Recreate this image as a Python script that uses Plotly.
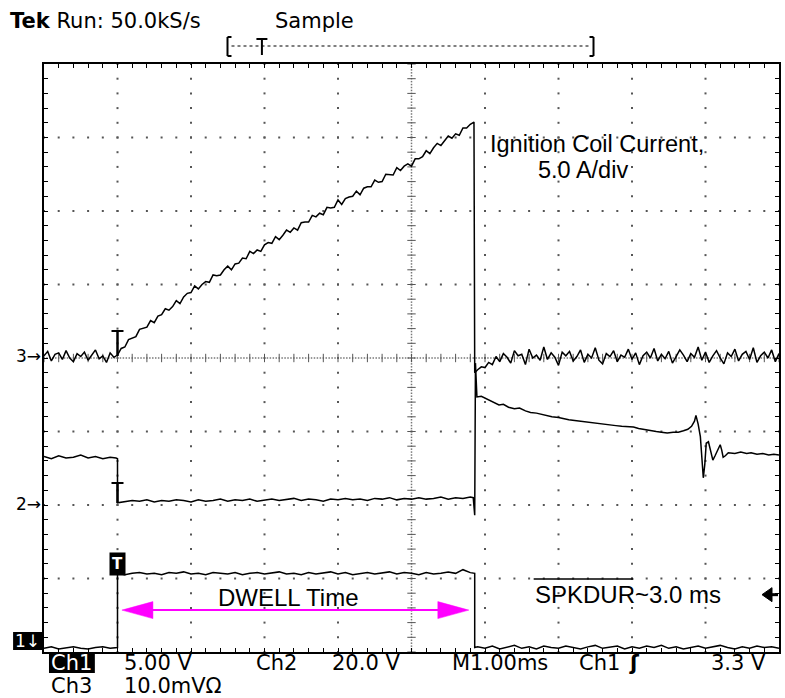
import numpy as np
import plotly.graph_objects as go

W, H = 785, 698
L, R, T, B = 44, 781, 64, 652   # plot area in pixels

# ---------------- data (in screen divisions; time axis 1.00 ms/div) ----------------
# Ch3 : ignition coil current (5.0 A/div)
ch3_t = np.concatenate([np.arange(0, 118) / 20, [5.86], np.arange(118, 201) / 20])
ch3_v = [
    0.03, 0.09, -0.04, 0.05, 0.07, -0.02, 0.10, 0.00, -0.05, 0.06,
    0.02, 0.08, -0.03, 0.04, 0.11, -0.01, 0.03, -0.06, 0.07, 0.01,
    0.04,
    0.13, 0.15, 0.25, 0.27, 0.29, 0.39, 0.40, 0.42, 0.51, 0.48,
    0.57, 0.59, 0.67, 0.65, 0.70, 0.78, 0.74, 0.83, 0.88, 0.89,
    0.98, 0.94, 1.00, 1.04, 1.03, 1.13, 1.12, 1.13, 1.20, 1.25,
    1.20, 1.28, 1.29, 1.36, 1.35, 1.45, 1.42, 1.47, 1.45, 1.54,
    1.57, 1.56, 1.65, 1.61, 1.67, 1.74, 1.71, 1.77, 1.74, 1.84,
    1.85, 1.85, 1.94, 1.92, 1.97, 1.95, 2.05, 2.04, 2.05, 2.15,
    2.09, 2.17, 2.19, 2.20, 2.27, 2.22, 2.31, 2.33, 2.33, 2.42,
    2.39, 2.40, 2.50, 2.50, 2.49, 2.59, 2.55, 2.61, 2.64, 2.61,
    2.71, 2.71, 2.74, 2.82, 2.78, 2.86, 2.92, 2.89, 2.95, 3.02,
    2.99, 3.05, 3.03, 3.13, 3.13, 3.18, 3.21,
    -0.20,
    -0.16, -0.12, -0.13, -0.06, -0.09, 0.02, -0.05, 0.06, 0.01, -0.07,
    0.10, 0.03, 0.05, -0.09, 0.12, 0.00, 0.04, -0.03, 0.15, -0.02,
    0.07, 0.01, -0.10, 0.08, 0.03, 0.09, -0.04, 0.02, 0.11, -0.06,
    0.05, 0.00, 0.14, -0.03, -0.08, 0.06, 0.02, 0.10, -0.05, 0.04,
    0.01, 0.12, -0.02, 0.07, -0.09, 0.03, 0.08, 0.00, 0.13, -0.04,
    0.05, -0.01, 0.09, -0.07, 0.02, 0.11, 0.04, -0.05, 0.06, 0.01,
    0.15, -0.03, 0.08, -0.06, 0.03, 0.10, 0.00, -0.08, 0.07, 0.02,
    0.12, -0.04, 0.05, 0.09, -0.02, 0.14, -0.06, 0.03, 0.08, 0.00,
    0.11, -0.05, 0.06,
]

# Ch2 : coil primary voltage (20.0 V/div)
ch2_t = np.concatenate([
    np.arange(0, 10) / 10, [0.98, 1.00, 1.00], np.arange(11, 59) / 10, [5.84],
    [5.86, 5.87, 5.89, 5.95, 6.01, 6.08, 6.13, 6.19, 6.25, 6.32, 6.40, 6.47,
     6.55, 6.62, 6.70, 6.78, 6.85, 6.91, 7.00, 7.07, 7.14, 7.22, 7.30, 7.38,
     7.46, 7.54, 7.62, 7.70, 7.78, 7.86, 7.94, 8.02, 8.09, 8.17, 8.25, 8.33,
     8.40, 8.48, 8.56, 8.63, 8.70, 8.76, 8.81, 8.85, 8.87, 8.90, 8.93, 8.95,
     8.97, 8.99, 9.01, 9.04, 9.06, 9.08, 9.10, 9.13, 9.15, 9.18, 9.20, 9.22,
     9.24, 9.27, 9.31, 9.40, 9.48, 9.56, 9.62, 9.70, 9.78, 9.86, 9.93, 10.0],
])
ch2_v = [
    -1.34, -1.37, -1.33, -1.36, -1.35, -1.32, -1.36, -1.34, -1.37, -1.35,
    -1.36, -1.37, -1.97,
    -1.96, -1.94, -1.95, -1.93, -1.96, -1.94, -1.95, -1.93, -1.94, -1.96,
    -1.93, -1.95, -1.94, -1.92, -1.95, -1.93, -1.94, -1.92, -1.95, -1.93,
    -1.92, -1.94, -1.93, -1.91, -1.94, -1.92, -1.93, -1.95, -1.92, -1.93,
    -1.91, -1.93, -1.92, -1.94, -1.91, -1.92, -1.90, -1.93, -1.91, -1.92,
    -1.90, -1.92, -1.91, -1.89, -1.92, -1.90, -1.91, -1.89,
    -1.90,
    -2.14, -0.07, -0.53, -0.52, -0.55, -0.58, -0.60, -0.64, -0.63, -0.67, -0.69, -0.68,
    -0.72, -0.74, -0.75, -0.77, -0.79, -0.80, -0.81, -0.83, -0.84, -0.85, -0.86, -0.87,
    -0.88, -0.88, -0.90, -0.91, -0.92, -0.93, -0.94, -0.94, -0.96, -0.97, -0.99, -1.00,
    -1.01, -1.02, -1.01, -1.01, -0.99, -0.97, -0.93, -0.86, -0.78, -0.90, -1.07, -1.40,
    -1.63, -1.45, -1.16, -1.14, -1.22, -1.30, -1.39, -1.33, -1.28, -1.22, -1.18, -1.25,
    -1.35, -1.33, -1.29, -1.30, -1.28, -1.30, -1.29, -1.31, -1.30, -1.32, -1.31, -1.32,
]

# Ch1 : dwell / SPKDUR logic signal (5.00 V/div)
ch1_t = np.concatenate([np.arange(0, 11) / 10, [1.0], np.arange(11, 59) / 10, [5.86, 5.86],
                        np.arange(59, 101) / 10])
ch1_v = [
    -3.95, -3.93, -3.96, -3.94, -3.93, -3.95, -3.96, -3.94, -3.93, -3.95, -3.94,
    -2.93,
    -2.95, -2.93, -2.92, -2.94, -2.93, -2.95, -2.92, -2.93, -2.91, -2.94,
    -2.93, -2.95, -2.92, -2.93, -2.94, -2.92, -2.95, -2.93, -2.92, -2.94,
    -2.93, -2.91, -2.94, -2.93, -2.95, -2.92, -2.94, -2.93, -2.91, -2.94,
    -2.92, -2.95, -2.93, -2.92, -2.94, -2.93, -2.91, -2.94, -2.92, -2.93,
    -2.95, -2.92, -2.94, -2.93, -2.91, -2.93, -2.88, -2.92,
    -2.93, -3.94,
    -3.93, -3.95, -3.92, -3.96, -3.94, -3.91, -3.95, -3.93, -3.96, -3.92,
    -3.94, -3.95, -3.92, -3.94, -3.96, -3.93, -3.91, -3.95, -3.94, -3.92,
    -3.96, -3.93, -3.95, -3.92, -3.94, -3.91, -3.95, -3.93, -3.96, -3.94,
    -3.92, -3.95, -3.93, -3.91, -3.94, -3.96, -3.93, -3.95, -3.92, -3.94,
    -3.93, -3.95,
]

trigger_t = 1.00          # trigger / dwell start (ms)
dwell_end_t = 5.86        # spark / dwell end (ms)
ch3_level, ch2_level = 0.0, -2.0
trig_level = -3.22
dwell_arrow_y = -3.43

header_left = "<b>Tek</b> Run: 50.0kS/s"
header_mode = "Sample"
bottom_row1 = [("5.00 V", 122), ("Ch2", 255), ("20.0 V", 331), ("M1.00ms", 451), ("Ch1", 578), ("3.3 V", 711)]
bottom_row2 = [("10.0mVΩ", 122)]

# ---------------- helpers ----------------
def px(x):
    return (x - L) / (R - L)

def py(y):
    return (B - y) / (B - T)

SCOPE_FONT = "DejaVu Sans"
ARIAL = "Liberation Sans, Arial"

fig = go.Figure()

# graticule dots
gx, gy = [], []
for xi in range(1, 10):
    if xi == 5:
        continue
    for yy in np.arange(-20, 21) / 5:
        gx.append(xi); gy.append(yy)
for yi in range(-3, 4):
    if yi == 0:
        continue
    for xx in np.arange(0, 51) / 5:
        gx.append(xx); gy.append(yi)
fig.add_trace(go.Scatter(x=gx, y=gy, mode="markers", hoverinfo="skip",
                         marker=dict(symbol="square", size=2, color="#555", line=dict(width=0))))
# centre lines: dense dots + cross ticks
cx = np.arange(0, 251) / 25
fig.add_trace(go.Scatter(x=list(cx) + [5] * 201, y=[0] * 251 + list(np.arange(-100, 101) / 25),
                         mode="markers", hoverinfo="skip",
                         marker=dict(symbol="square", size=1.5, color="#777", line=dict(width=0))))
tk = np.arange(0, 51) / 5
fig.add_trace(go.Scatter(x=list(tk), y=[0] * len(tk), mode="markers", hoverinfo="skip",
                         marker=dict(symbol="line-ns", size=6, line=dict(width=1, color="#555"))))
tk2 = np.arange(-20, 21) / 5
fig.add_trace(go.Scatter(x=[5] * len(tk2), y=list(tk2), mode="markers", hoverinfo="skip",
                         marker=dict(symbol="line-ew", size=6, line=dict(width=1, color="#555"))))

# waveforms
for tt, vv in [(ch3_t, ch3_v), (ch2_t, ch2_v), (ch1_t, ch1_v)]:
    fig.add_trace(go.Scatter(x=tt, y=vv, mode="lines", line=dict(color="black", width=1.5), hoverinfo="skip"))

shapes = []
# magenta dwell arrow
a0, a1 = trigger_t + 0.06, dwell_end_t - 0.08
shapes.append(dict(type="line", xref="x", yref="y", x0=a0 + 0.3, x1=a1 - 0.3, y0=dwell_arrow_y, y1=dwell_arrow_y,
                   line=dict(color="#ff00ff", width=2)))
for anc, path in [(a0, "M0,0 L31,8.5 L31,-8.5 Z"), (a1, "M0,0 L-31,8.5 L-31,-8.5 Z")]:
    shapes.append(dict(type="path", xref="x", yref="y", xsizemode="pixel", ysizemode="pixel",
                       xanchor=anc, yanchor=dwell_arrow_y, path=path,
                       fillcolor="#ff00ff", line=dict(color="#ff00ff", width=0.5)))
# trigger level marker (right edge)
shapes.append(dict(type="path", xref="x", yref="y", xsizemode="pixel", ysizemode="pixel",
                   xanchor=10, yanchor=trig_level, path="M-17,0 L-7,7 L-7,-7 Z",
                   fillcolor="black", line=dict(color="black", width=1)))
shapes.append(dict(type="line", xref="x", yref="y", xsizemode="pixel", ysizemode="pixel",
                   xanchor=10, yanchor=trig_level, x0=-8, x1=-1, y0=0, y1=0,
                   line=dict(color="black", width=3)))
# T markers on ch3 and ch2
for lvl, top in [(ch3_level, 27), (ch2_level, 22)]:
    shapes.append(dict(type="line", xref="x", yref="y", xsizemode="pixel", ysizemode="pixel",
                       xanchor=trigger_t, yanchor=lvl, x0=-6, x1=6, y0=top, y1=top,
                       line=dict(color="black", width=2)))
    shapes.append(dict(type="line", xref="x", yref="y", xsizemode="pixel", ysizemode="pixel",
                       xanchor=trigger_t, yanchor=lvl, x0=0, x1=0, y0=top, y1=2,
                       line=dict(color="black", width=2.5)))
# overline above SPKDUR
shapes.append(dict(type="line", xref="paper", yref="paper", x0=px(535), x1=px(635), y0=py(579), y1=py(579),
                   line=dict(color="black", width=1.5)))
# record bracket at the top
shapes.append(dict(type="line", xref="paper", yref="paper", x0=px(232), x1=px(593), y0=py(46), y1=py(46),
                   line=dict(color="#555", width=1.5, dash="dot")))
for xb, d in [(228, 1), (595, -1)]:
    shapes.append(dict(type="line", xref="paper", yref="paper", x0=px(xb), x1=px(xb), y0=py(37), y1=py(56),
                       line=dict(color="black", width=2)))
    for yb in (37, 56):
        shapes.append(dict(type="line", xref="paper", yref="paper", x0=px(xb), x1=px(xb + 4 * d), y0=py(yb),
                           y1=py(yb), line=dict(color="black", width=2)))
shapes.append(dict(type="line", xref="paper", yref="paper", x0=px(257), x1=px(268), y0=py(39), y1=py(39),
                   line=dict(color="black", width=2)))
shapes.append(dict(type="line", xref="paper", yref="paper", x0=px(262.5), x1=px(262.5), y0=py(39), y1=py(55),
                   line=dict(color="black", width=2)))
# small inverse boxes
shapes.append(dict(type="rect", xref="paper", yref="paper", x0=px(13), x1=px(42), y0=py(650), y1=py(632),
                   fillcolor="black", line=dict(width=0)))
shapes.append(dict(type="rect", xref="paper", yref="paper", x0=px(49), x1=px(95), y0=py(673), y1=py(654),
                   fillcolor="black", line=dict(width=0)))

ann = []
def txt(s, x, y, size, color="black", family=SCOPE_FONT, xanchor="left", **kw):
    ann.append(dict(text=s, x=px(x), y=py(y), xref="paper", yref="paper", xanchor=xanchor, yanchor="middle",
                    showarrow=False, font=dict(size=size, color=color, family=family), **kw))

txt(header_left, 8, 21, 21)
txt(header_mode, 274, 21, 21)
txt("3→", 43, 356, 17, xanchor="right")
txt("2→", 43, 504, 17, xanchor="right")
txt("1↓", 27.5, 641, 17, color="white", xanchor="center")
txt("Ch1", 72, 663, 21, color="white", xanchor="center")
for s, x in bottom_row1:
    txt(s, x, 663, 21)
txt("<b>ʃ</b>", 629, 663, 21)
txt("Ch3", 49, 686, 21)
for s, x in bottom_row2:
    txt(s, x, 686, 21)
# ch1 trigger box
ann.append(dict(text="<b>T</b>", x=trigger_t, y=-2.97, xref="x", yref="y", xanchor="center", yanchor="bottom",
                showarrow=False, bgcolor="black", borderpad=2,
                font=dict(size=15, color="white", family=SCOPE_FONT)))
txt("Ignition Coil Current,", 489, 144, 23.5, family=ARIAL)
txt("5.0 A/div", 537, 170, 23.5, family=ARIAL)
txt("DWELL Time", 216, 597, 24, family=ARIAL)
txt("SPKDUR~3.0 ms", 534, 594, 24, family=ARIAL)

axis_common = dict(showgrid=False, zeroline=False, showticklabels=False, ticks="inside", ticklen=4,
                   tickcolor="black", tickwidth=1, showline=True, linecolor="black", linewidth=2,
                   mirror="ticks", fixedrange=True)
fig.update_layout(
    width=W, height=H, autosize=False,
    margin=dict(l=L, r=W - R, t=T, b=H - B, pad=0),
    paper_bgcolor="white", plot_bgcolor="white", showlegend=False,
    xaxis=dict(range=[0, 10], tick0=0, dtick=0.2, **axis_common),
    yaxis=dict(range=[-4, 4], tick0=0, dtick=0.2, **axis_common),
    shapes=shapes, annotations=ann,
)
fig.write_html("out.html", config={"displayModeBar": False},
               post_script="document.body.style.margin='0';document.body.style.overflow='hidden';")
